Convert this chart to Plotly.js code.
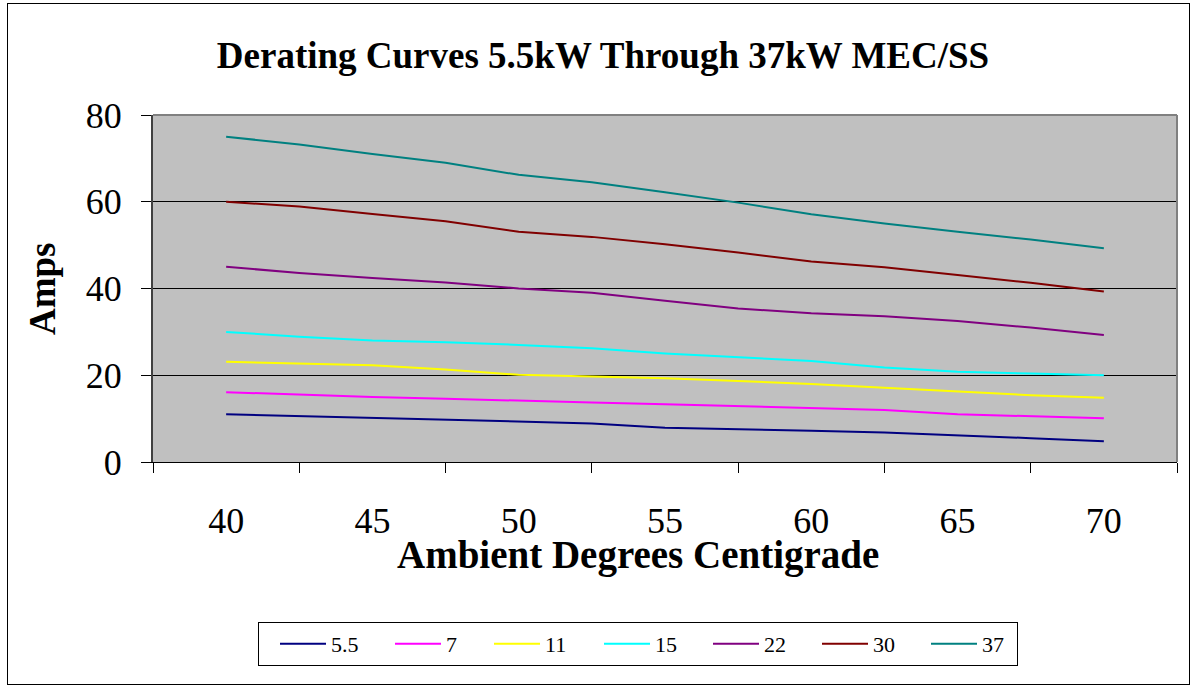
<!DOCTYPE html>
<html>
<head>
<meta charset="utf-8">
<script src="https://cdn.plot.ly/plotly-3.0.1.min.js"></script>
<style>
  html, body { margin: 0; padding: 0; background: #fff; }
  #frame { position: absolute; left: 7px; top: 3px; width: 1183px; height: 682px; border: 1px solid #000; box-sizing: border-box; pointer-events: none; z-index: 5; }
  #chart { position: absolute; left: 0; top: 0; width: 1194px; height: 688px; }
</style>
</head>
<body>
<div id="chart"></div>
<div id="frame"></div>
<script>
// Ambient temperature (deg C) at each data point
const temps = [40, 42.5, 45, 47.5, 50, 52.5, 55, 57.5, 60, 62.5, 65, 67.5, 70];
const xTickLabels = [40, 45, 50, 55, 60, 65, 70];
const xBoundaries = [37.5, 42.5, 47.5, 52.5, 57.5, 62.5, 67.5, 72.5];
const yTickValues = [0, 20, 40, 60, 80];

const seriesNames = ['5.5', '7', '11', '15', '22', '30', '37'];
const amps_5_5 = [11, 10.6, 10.2, 9.7, 9.3, 8.9, 7.9, 7.6, 7.2, 6.8, 6.2, 5.5, 4.8];
const amps_7   = [16.1, 15.5, 15, 14.6, 14.1, 13.7, 13.3, 12.9, 12.4, 12, 11, 10.5, 10.1];
const amps_11  = [23.1, 22.7, 22.3, 21.3, 20.1, 19.7, 19.3, 18.7, 18, 17.1, 16.2, 15.4, 14.8];
const amps_15  = [30, 28.9, 28, 27.6, 27, 26.2, 25, 24.1, 23.3, 21.8, 20.8, 20.4, 20];
const amps_22  = [45, 43.6, 42.4, 41.4, 40, 39, 37.2, 35.4, 34.3, 33.6, 32.5, 31, 29.3];
const amps_30  = [60, 58.9, 57.2, 55.5, 53.1, 51.9, 50.2, 48.3, 46.2, 44.9, 43.1, 41.3, 39.3];
const amps_37  = [75, 73.2, 71, 69, 66.2, 64.5, 62.2, 59.8, 57.1, 55, 53.1, 51.3, 49.3];
const seriesValues = [amps_5_5, amps_7, amps_11, amps_15, amps_22, amps_30, amps_37];
const seriesColors = ['#000080', '#FF00FF', '#FFFF00', '#00FFFF', '#800080', '#800000', '#008080'];
// legend entry widths (text area) so that entries are spaced like the reference
const legendEntryWidths = [38, 22, 33, 32, 32, 32, 30];

const FONT = 'Liberation Serif, Times New Roman, serif';

const traces = seriesNames.map((name, i) => ({
  type: 'scatter',
  mode: 'lines',
  name: name,
  x: temps,
  y: seriesValues[i],
  line: { color: seriesColors[i], width: 2 },
  legendwidth: legendEntryWidths[i],
  hoverinfo: 'skip'
}));

const layout = {
  width: 1194,
  height: 688,
  margin: { l: 153, r: 17, t: 115, b: 226 },
  paper_bgcolor: '#ffffff',
  plot_bgcolor: '#C0C0C0',
  font: { family: FONT, color: '#000' },
  title: {
    text: 'Derating Curves 5.5kW Through 37kW MEC/SS',
    font: { family: FONT, size: 37, weight: 'bold', color: '#000' },
    xref: 'container', x: 603 / 1194, xanchor: 'center',
    yref: 'container', y: 1 - 55 / 688, yanchor: 'middle'
  },
  xaxis: {
    range: [37.5, 72.5],
    tickmode: 'array',
    tickvals: xTickLabels,
    ticktext: xTickLabels.map(String),
    ticks: '',
    ticklabelstandoff: 27,
    tickfont: { family: FONT, size: 36, color: '#000' },
    showgrid: false,
    zeroline: false,
    showline: true,
    linecolor: '#000',
    linewidth: 1,
    minor: {
      tickmode: 'array',
      tickvals: xBoundaries,
      ticks: 'outside',
      ticklen: 10,
      tickwidth: 1,
      tickcolor: '#000',
      showgrid: false
    },
    fixedrange: true
  },
  yaxis: {
    range: [0, 80],
    tickmode: 'array',
    tickvals: yTickValues,
    ticks: 'outside',
    ticklen: 10,
    tickwidth: 1,
    tickcolor: '#000',
    ticklabelstandoff: 12,
    tickfont: { family: FONT, size: 36, color: '#000' },
    showgrid: true,
    gridcolor: '#000',
    gridwidth: 1,
    zeroline: false,
    showline: true,
    linecolor: '#404040',
    linewidth: 2,
    fixedrange: true
  },
  showlegend: true,
  legend: {
    orientation: 'h',
    xref: 'paper', x: (258 - 153) / 1024, xanchor: 'left',
    yref: 'paper', y: (462 - 622) / 347, yanchor: 'top',
    bgcolor: '#fff',
    bordercolor: '#000',
    borderwidth: 1,
    font: { family: FONT, size: 22, color: '#000' },
    itemwidth: 62,
    traceorder: 'normal'
  },
  annotations: [
    {
      text: 'Ambient Degrees Centigrade',
      xref: 'paper', yref: 'paper',
      x: (638 - 153) / 1024, y: (462 - 555) / 347,
      xanchor: 'center', yanchor: 'middle',
      showarrow: false,
      font: { family: FONT, size: 39, weight: 'bold', color: '#000' }
    },
    {
      text: 'Amps',
      xref: 'paper', yref: 'paper',
      x: (42 - 153) / 1024, y: (462 - 289) / 347,
      xanchor: 'center', yanchor: 'middle',
      textangle: -90,
      showarrow: false,
      font: { family: FONT, size: 37, weight: 'bold', color: '#000' }
    }
  ],
  shapes: [
    { type: 'line', xref: 'paper', yref: 'paper', x0: 0, x1: 1, y0: 1, y1: 1, line: { color: '#808080', width: 2 } },
    { type: 'line', xref: 'paper', yref: 'paper', x0: 1, x1: 1, y0: 0, y1: 1, line: { color: '#808080', width: 2 } }
  ]
};

Plotly.newPlot('chart', traces, layout, { staticPlot: true, displayModeBar: false }).then(gd => {
  // lengthen legend line samples to match the reference (46px, inset from the box edge)
  gd.querySelectorAll('.legend .legendlines path').forEach(p => p.setAttribute('d', 'M21,0h46'));
});
</script>
</body>
</html>
